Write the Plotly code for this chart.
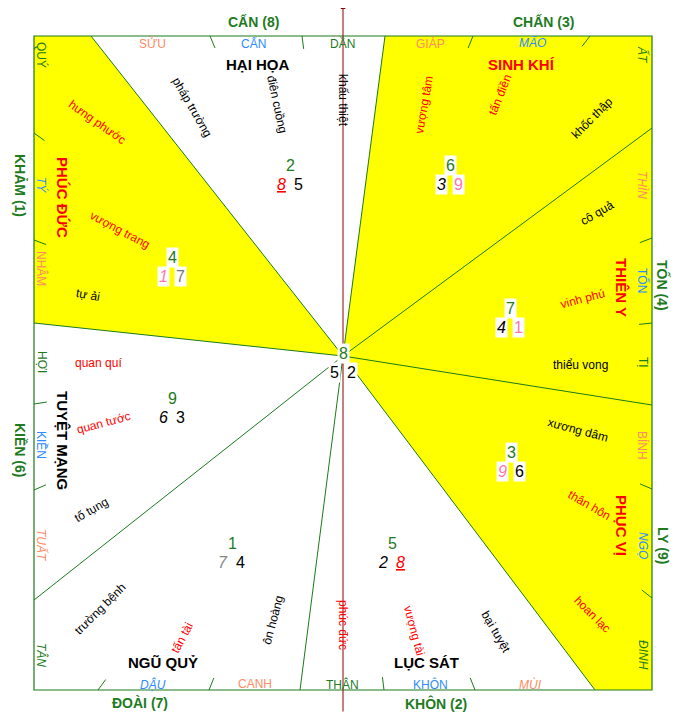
import plotly.graph_objects as go

W, H = 686, 713
PAGE_OFF = 8  # browser body margin
BOX = (34, 36, 652, 690)
CENTER = (343, 356)
GREEN = "#1e7b1e"
LINE = "#1a7a1a"

# sector boundary ray endpoints on the frame
ray_ends = [(91, 36), (385, 36), (652, 128), (652, 405), (595, 690), (300, 690), (34, 600), (34, 323)]

# yellow (good) sectors as polygons: centre + frame points
yellow_polys = [
    [(34, 323), (34, 36), (91, 36)],
    [(385, 36), (652, 36), (652, 690), (595, 690)],
]

# 24 mountains
mount_names = ["SỬU", "CẤN", "DẦN", "GIÁP", "MÃO",
               "ẤT", "THÌN", "TỐN", "TỊ", "BÍNH", "NGỌ", "ĐINH",
               "DẬU", "CANH", "THÂN", "KHÔN", "MÙI",
               "QUÝ", "TÝ", "NHÂM", "HỢI", "KIỀN", "TUẤT", "TÂN"]
mount_pos = [(152, 43), (253, 43), (342, 43), (430, 43), (532, 43),
             (643, 55), (643, 185), (643, 280), (643, 362), (643, 445), (643, 545), (643, 655),
             (153, 684), (255, 684), (342, 684), (430, 684), (530, 684),
             (42, 55), (42, 185), (42, 268), (42, 362), (42, 445), (42, 545), (42, 655)]
mount_colors = ["#ff8a65", "#2e8bff", GREEN, "#ff8a65", "#2e8bff",
                GREEN, "#ff8a65", "#2e8bff", GREEN, "#ff8a65", "#2e8bff", GREEN,
                "#2e8bff", "#ff8a65", GREEN, "#2e8bff", "#ff8a65",
                GREEN, "#2e8bff", "#ff8a65", GREEN, "#2e8bff", "#ff8a65", GREEN]
mount_italic = [False, False, False, False, True,
                True, True, False, False, False, True, True,
                True, False, False, False, True,
                False, True, False, False, False, True, True]
tick_pts = [(210, 36), (302, 36), (473, 36), (590, 36),
            (652, 238), (652, 323), (652, 489), (652, 598),
            (98, 690), (209, 690), (384, 690), (475, 690),
            (34, 133), (34, 240), (34, 404), (34, 490)]

# trigram labels
tri_names = ["CẤN (8)", "CHẤN (3)", "KHẢM (1)", "TỐN (4)", "KIỀN (6)", "LY (9)", "ĐOÀI (7)", "KHÔN (2)"]
tri_pos = [(253, 22), (543, 22), (20, 185), (663, 285), (20, 450), (663, 545), (140, 703), (436, 703)]
tri_angle = [0, 0, 90, 90, 90, 90, 0, 0]

# sector names
sec_names = ["HẠI HỌA", "SINH KHÍ", "PHÚC ĐỨC", "THIÊN Y", "TUYỆT MẠNG", "PHỤC VỊ", "NGŨ QUỶ", "LỤC SÁT"]
sec_pos = [(258, 64), (521, 64), (63, 197), (622, 287), (63, 440), (622, 525), (163, 662), (426, 662)]
sec_color = ["black", "red", "red", "red", "black", "red", "black", "black"]
sec_angle = [0, 0, 90, 90, 90, 90, 0, 0]

# minor stars
star_names = ["pháp trường", "điên cuồng", "khấu thiệt", "hưng phước", "vượng trang", "tự ải",
              "vượng tâm", "tấn điền", "khốc thập", "cô quả", "vinh phú", "thiểu vong",
              "xương dâm", "thân hôn", "hoan lạc", "bại tuyệt", "vượng tài", "phúc đức",
              "ôn hoàng", "tấn tài", "trường bệnh", "tố tụng", "quan tước", "quan quí"]
star_pos = [(192, 107), (277, 104), (343, 100), (97, 122), (120, 230), (88, 295),
            (424, 105), (500, 95), (592, 118), (597, 213), (582, 299), (580, 365),
            (578, 430), (589, 505), (592, 614), (496, 632), (414, 630), (343, 625),
            (273, 620), (182, 638), (100, 609), (91, 510), (103, 423), (98, 363)]
star_angle = [60, 78, 90, 35, 28, 10, -80, -68, -45, -30, -15, 0,
              15, 30, 45, 60, 75, 90, -75, -62, -45, -30, -15, 0]
star_red = [False, False, False, True, True, False, True, True, False, False, True, False,
            False, True, True, False, True, True, False, True, False, False, True, True]

# flying-star numbers per palace: (top, left, right)
palace_pos = [(290, 175), (450, 175), (172, 267), (510, 318), (343, 363), (172, 408), (511, 462), (232, 553), (392, 553)]
palace_top = ["2", "6", "4", "7", "8", "9", "3", "1", "5"]
palace_left = ["8", "3", "1", "4", "5", "6", "9", "7", "2"]
palace_right = ["5", "9", "7", "1", "2", "3", "6", "4", "8"]
left_col = ["red", "black", "#ff77aa", "black", "black", "black", "#ff77aa", "#888", "black"]
right_col = ["black", "#ff77aa", "#777", "#ff77aa", "black", "black", "black", "black", "red"]
left_it = [True, True, True, True, False, True, True, True, True]
right_it = [False, False, False, False, False, False, False, False, True]
left_ul = [True, False, False, False, False, False, False, False, False]
right_ul = [False, False, False, False, False, False, False, False, True]
boxed = [False, True, True, True, True, False, True, False, False]

fig = go.Figure()
fig.add_trace(go.Scatter(x=[0, W], y=[0, H], mode="markers", marker=dict(opacity=0), hoverinfo="skip"))

shapes = []
cx, cy = CENTER
for poly in yellow_polys:
    pts = [CENTER] + poly
    path = "M " + " L ".join(f"{x},{y}" for x, y in pts) + " Z"
    shapes.append(dict(type="path", path=path, fillcolor="#ffff00", line=dict(width=0), layer="below"))
for (x, y) in ray_ends:
    shapes.append(dict(type="line", x0=cx, y0=cy, x1=x, y1=y, line=dict(color=LINE, width=1)))
for (x, y) in tick_pts:
    dx, dy = cx - x, cy - y
    n = (dx * dx + dy * dy) ** 0.5
    shapes.append(dict(type="line", x0=x, y0=y, x1=x + dx / n * 13, y1=y + dy / n * 13,
                       line=dict(color=LINE, width=1)))
x0, y0, x1, y1 = BOX
shapes.append(dict(type="rect", x0=x0, y0=y0, x1=x1, y1=y1, line=dict(color=LINE, width=1.2)))

ann = []
ann.append(dict(x=343, y=4, ax=343, ay=713, axref="x", ayref="y", xref="x", yref="y", text="",
                showarrow=True, arrowhead=2, arrowsize=1, arrowwidth=1, arrowcolor="#8b0000"))


def t(x, y, s, size=11, color="black", angle=0, bold=False, italic=False, bg=None, ul=False):
    txt = s
    if ul:
        txt = f"<u>{txt}</u>"
    if italic:
        txt = f"<i>{txt}</i>"
    if bold:
        txt = f"<b>{txt}</b>"
    d = dict(x=x, y=y, text=txt, showarrow=False, textangle=angle,
             font=dict(family="Arial, Liberation Sans", size=size, color=color))
    if bg:
        d.update(bgcolor=bg, borderpad=1)
    ann.append(d)


for n, p, c, it in zip(mount_names, mount_pos, mount_colors, mount_italic):
    ang = 90 if p[0] in (42, 643) else 0
    t(p[0], p[1], n, 12, c, ang, italic=it)
for n, p, a in zip(tri_names, tri_pos, tri_angle):
    t(p[0], p[1], n, 14, GREEN, a, bold=True)
for n, p, c, a in zip(sec_names, sec_pos, sec_color, sec_angle):
    t(p[0], p[1], n, 15, c, a, bold=True)
for n, p, a, r in zip(star_names, star_pos, star_angle, star_red):
    t(p[0], p[1], n, 12, "red" if r else "black", a)
for i, (x, y) in enumerate(palace_pos):
    bg = "white" if boxed[i] else None
    t(x, y - 10, palace_top[i], 16, GREEN, bg=bg)
    t(x - 9, y + 9, palace_left[i], 16, left_col[i], italic=left_it[i], ul=left_ul[i], bg=bg)
    t(x + 8, y + 9, palace_right[i], 16, right_col[i], italic=right_it[i], ul=right_ul[i], bg=bg)

# the page body adds an 8px margin, so shift the visible range to keep reference pixels aligned
fig.update_layout(width=W, height=H, margin=dict(l=0, r=0, t=0, b=0),
                  paper_bgcolor="white", plot_bgcolor="white", showlegend=False,
                  shapes=shapes, annotations=ann,
                  xaxis=dict(range=[PAGE_OFF, W + PAGE_OFF], visible=False, fixedrange=True),
                  yaxis=dict(range=[H + PAGE_OFF, PAGE_OFF], visible=False, fixedrange=True))
fig.write_html("out.html")
